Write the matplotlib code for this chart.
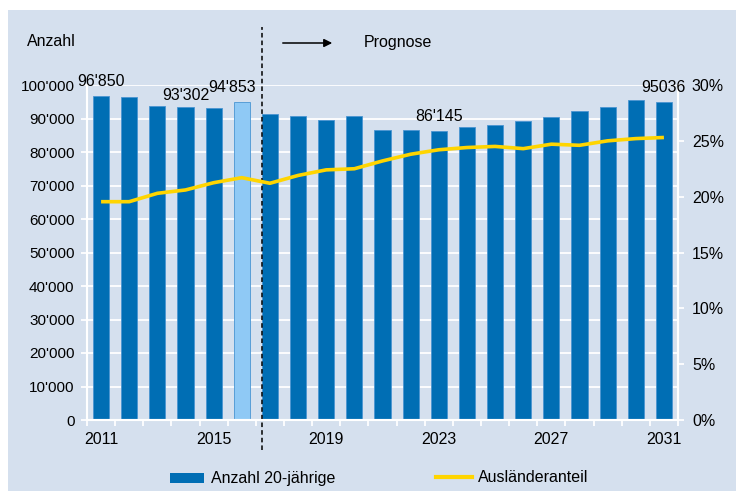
import numpy as np
import matplotlib
matplotlib.use("Agg")
from matplotlib import pyplot as plt
from matplotlib.patches import Rectangle
from matplotlib.lines import Line2D
from matplotlib.ticker import FuncFormatter, FixedLocator

years = np.arange(2011, 2032)
anzahl = [96850, 96300, 93800, 93302, 93200, 94853, 91300, 90700, 89700, 90700,
          86600, 86600, 86145, 87600, 88200, 89200, 90300, 92300, 93300, 95400, 95036]
anteil = [19.55, 19.55, 20.3, 20.6, 21.25, 21.7, 21.2, 21.9, 22.4, 22.5,
          23.2, 23.8, 24.2, 24.4, 24.5, 24.3, 24.7, 24.6, 25.0, 25.2, 25.3]
tick_years = [2011, 2015, 2019, 2023, 2027, 2031]
labelled = {2011: "96'850", 2014: "93'302", 2016: "94'853", 2023: "86'145", 2031: "95036"}

bg = "#d5e0ee"
dark = "#006eb4"
light = "#8fc9f5"
gelb = "#ffd500"

plt.rcParams["font.family"] = ["Liberation Sans", "DejaVu Sans"]
plt.rcParams["font.size"] = 11.5

W, H = 736, 491
fig = plt.figure(figsize=(W / 100, H / 100), dpi=100)
fig.patch.set_facecolor("white")
fig.patches.append(Rectangle((8 / W, 0), 1, 1 - 10 / H, transform=fig.transFigure,
                             facecolor=bg, edgecolor="none", zorder=-10))

def fx(px):
    return px / W

def fy(py):
    return 1 - py / H

ax = fig.add_axes([fx(87), fy(420), (678 - 87) / W, (420 - 85) / H])
ax.set_facecolor(bg)
ax2 = ax.twinx()
ax2.set_facecolor("none")

x = np.arange(len(years))
colors = [light if y == 2016 else dark for y in years]
ax.bar(x, anzahl, width=0.57, color=colors, edgecolor="#4a95d2", linewidth=0.6, zorder=2)
ax.set_axisbelow(True)
ax.yaxis.grid(True, color="white", linewidth=1.3)

ax2.plot(x, anteil, color=gelb, linewidth=2.6, solid_capstyle="butt", zorder=3)

ax.set_xlim(-0.5, len(years) - 0.5)
ax.set_ylim(0, 100000)
ax2.set_ylim(0, 30)

ax.set_yticks(np.arange(0, 100001, 10000))
ax.yaxis.set_major_formatter(FuncFormatter(lambda v, p: f"{int(v):,}".replace(",", "'")))
ax2.set_yticks(np.arange(0, 31, 5))
ax2.yaxis.set_major_formatter(FuncFormatter(lambda v, p: f"{int(v)}%"))

ax.set_xticks([list(years).index(t) for t in tick_years])
ax.set_xticklabels([str(t) for t in tick_years])
ax.xaxis.set_minor_locator(FixedLocator(np.arange(-0.5, len(years), 1)))
ax.tick_params(axis="x", which="major", length=0, pad=9)
ax.tick_params(axis="x", which="minor", length=4, width=1.3, color="white", direction="out")
ax.tick_params(axis="y", length=4, width=1.3, color="white", direction="out", pad=5,
               labelsize=11)
ax2.tick_params(axis="y", length=4, width=1.3, color="white", direction="out", pad=6)

for a in (ax, ax2):
    a.spines["top"].set_visible(False)
    for s in ("left", "right", "bottom"):
        a.spines[s].set_color("white")
        a.spines[s].set_linewidth(1.5)

for yr, txt in labelled.items():
    i = list(years).index(yr)
    dx = -7 if yr == 2016 else 0
    dy = 3 if yr == 2014 else 5
    ax2.annotate(txt, xy=(i, anzahl[i]), xycoords=ax.transData, xytext=(dx, dy),
                 textcoords="offset points", ha="center", va="bottom", zorder=5)

# Prognose marker
ax.axvline(6 - 0.285, ymin=(420 - 450) / 335, ymax=(420 - 27) / 335, color="black",
           linestyle=(0, (3, 2)), linewidth=1.1, clip_on=False, zorder=6)
fig.text(fx(27), fy(42), "Anzahl", ha="left", va="center")
fig.text(fx(364), fy(43), "Prognose", ha="left", va="center")
ax.annotate("", xy=(fx(335), fy(43)), xytext=(fx(280), fy(43)),
            xycoords="figure fraction", textcoords="figure fraction",
            arrowprops=dict(arrowstyle="-|>", color="black", lw=1.1, mutation_scale=12))

# legend
fig.patches.append(Rectangle((fx(170), fy(483)), 34 / W, 10 / H, transform=fig.transFigure,
                             facecolor=dark, edgecolor="none"))
fig.text(fx(211), fy(478), "Anzahl 20-jährige", ha="left", va="center")
fig.lines.append(Line2D([fx(436), fx(472)], [fy(477), fy(477)], transform=fig.transFigure,
                        color=gelb, linewidth=3))
fig.text(fx(478), fy(478), "Ausländeranteil", ha="left", va="center")

fig.savefig("out.png", dpi=100, facecolor=fig.get_facecolor())
